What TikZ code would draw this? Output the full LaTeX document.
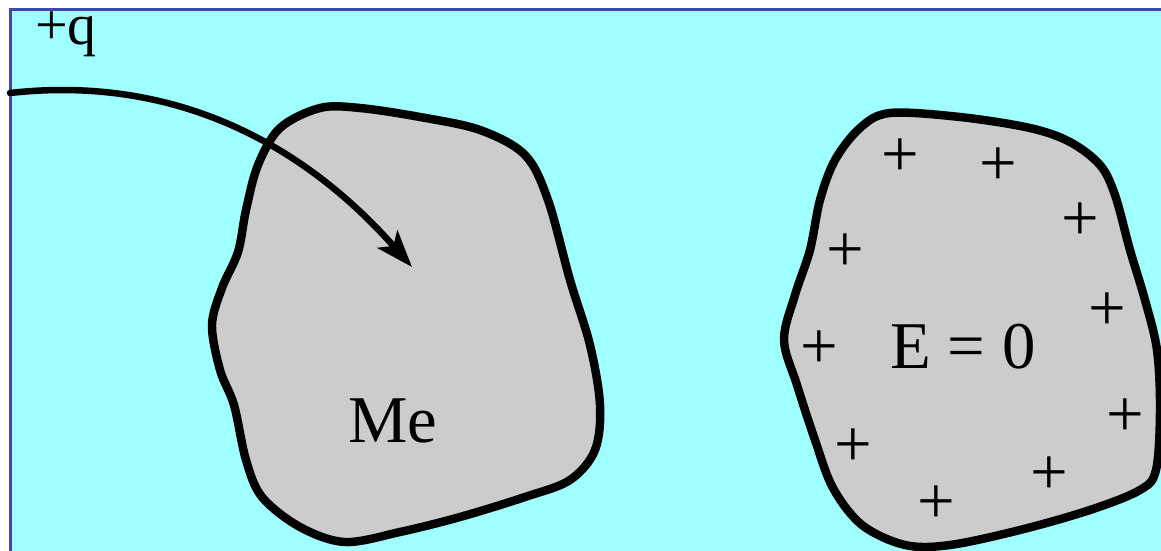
\documentclass[tikz,border=0pt]{standalone}
\usepackage{fontspec}
\setmainfont{Liberation Serif}
\usetikzlibrary{arrows.meta}
\definecolor{seacyan}{HTML}{A0FFFF}
\definecolor{megray}{HTML}{CCCCCC}
\definecolor{frameblue}{HTML}{4444AA}
\tikzset{
  >={Stealth[length=21pt,width=15pt,inset=5pt]},
  % kroppar
  blob/.style={fill=megray,draw=black,line width=4.8pt,line join=round},
  lbl/.style={inner sep=0pt,font=\fontsize{38}{40}\selectfont},
  pl/.style={inner sep=0pt,font=\fontsize{38}{40}\selectfont},
  % laddning
  traj/.style={->,draw=black,line width=3.7pt,line cap=round},
}
\begin{document}
\begin{tikzpicture}[x=0.02cm,y=-0.02cm]
\useasboundingbox (0,0) rectangle (1161,551);
\clip (0,0) rectangle (1161,551);
  \fill[white] (0,0) rectangle (1161,551);
  \draw[fill=seacyan,draw=frameblue,line width=1.6pt] (10.5,9.5) rectangle (1180,580);
  % metallkropp
  \draw[blob] plot[smooth cycle,tension=0.55] coordinates {
    (320,108) (280,128) (258,165) (246,210) (238,252) (222,288) (212,325)
    (220,370) (234,405) (246,460) (262,497) (300,527) (345,542) (400,532)
    (460,517) (525,497) (570,480) (595,450) (600,405) (590,345) (570,280)
    (548,200) (525,155) (480,130) (420,117) (360,108)};
  \draw[blob] plot[smooth cycle,tension=0.55] coordinates {
    (890,113) (960,117) (1030,128) (1070,142) (1100,165) (1115,195)
    (1130,250) (1145,300) (1157,350) (1160,410) (1156,470) (1140,490)
    (1090,510) (1020,530) (950,545) (905,545) (862,525) (833,488)
    (815,440) (797,385) (784,340) (795,295) (810,250) (820,200)
    (835,160) (860,128)};
  \node[lbl,anchor=base] (me) at (393,442) {Me};
  \node[lbl,anchor=base] (ezero) at (963,368) {E = 0};
  \foreach \x/\y [count=\i] in {900/158,998/167,1080/222,845/253,1107/312,
      819/350,1125/418,853/448,1049/476,936/505}
    \node[pl] (p\i) at (\x,\y) {+};
  % laddningens bana
  \node[inner sep=0pt,anchor=base,font=\fontsize{33}{35}\selectfont] (q) at (66,45) {+q};
  \coordinate (qstart) at (10,93);
  \coordinate (qend) at (412,267);
  \draw[traj] (qstart) .. controls (170,75) and (300,140) .. (qend);
\end{tikzpicture}
\end{document}
